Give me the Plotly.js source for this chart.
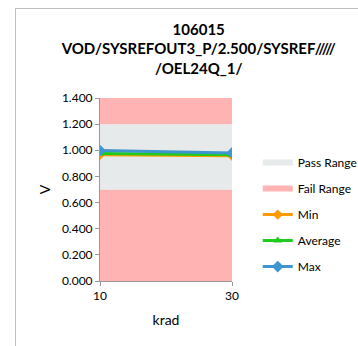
<!DOCTYPE html>
<html><head><meta charset="utf-8">
<script src="https://cdn.plot.ly/plotly-3.0.1.min.js"></script>
<style>
body{margin:0;padding:0;background:#fff;}
#wrap{position:relative;width:358px;height:346px;}
#chart{position:absolute;left:0;top:0;width:358px;height:346px;}
#frame{position:absolute;left:15px;top:8px;width:400px;height:400px;border-left:1px solid #c0c0c0;border-top:1px solid #c0c0c0;pointer-events:none;}
</style></head>
<body>
<div id="wrap"><div id="chart"></div><div id="frame"></div></div>
<script>
const krad = [10, 30];
const failLow = [0.7, 0.7];
const passHigh = [1.2, 1.2];
const failHigh = [1.4, 1.4];
const minV = [0.965, 0.958];
const avgV = [0.975, 0.965];
const maxV = [0.998, 0.980];
const titleText = '<b>106015</b><br><b>VOD/SYSREFOUT3_P/2.500/SYSREF/////</b><br><b>/OEL24Q_1/</b>';

const passColor = '#E6EAEA';
const failColor = '#FFB3B3';
const traces = [
  {x: krad, y: failLow, mode: 'none', fill: 'tozeroy', fillcolor: failColor, name: 'Fail Range', legendgroup: 'fail', showlegend: false, hoverinfo: 'skip'},
  {x: krad, y: passHigh, mode: 'none', fill: 'tonexty', fillcolor: passColor, name: 'Pass Range', legendgroup: 'pass', hoverinfo: 'skip'},
  {x: krad, y: failHigh, mode: 'none', fill: 'tonexty', fillcolor: failColor, name: 'Fail Range', legendgroup: 'fail', hoverinfo: 'skip'},
  {x: krad, y: minV, mode: 'lines+markers', name: 'Min', legendgroup: 'min', line: {color: '#FF9A00', width: 3}, marker: {symbol: 'diamond', size: 8, color: '#FF9A00'}},
  {x: krad, y: avgV, mode: 'lines+markers', name: 'Average', legendgroup: 'avg', line: {color: '#1DCC1D', width: 3}, marker: {symbol: 'triangle-up', size: 8, color: '#1DCC1D'}},
  {x: krad, y: maxV, mode: 'lines+markers', name: 'Max', legendgroup: 'max', line: {color: '#3E95D0', width: 3}, marker: {symbol: 'diamond', size: 9, color: '#3E95D0'}}
];
const layout = {
  width: 358, height: 346,
  margin: {l: 100, r: 126, t: 98, b: 65, autoexpand: false},
  paper_bgcolor: '#fff', plot_bgcolor: '#fff',
  font: {family: 'Lato, "Open Sans", sans-serif', color: '#000', size: 12},
  title: {text: titleText, x: 0.555, xanchor: 'center', xref: 'container', yref: 'container', y: 0.90, yanchor: 'top', font: {size: 15, family: 'Lato, "Open Sans", sans-serif', color: '#000'}},
  xaxis: {range: [10, 30], tickvals: krad, ticktext: ['10', '30'], showgrid: false, zeroline: false, showline: true, linecolor: '#999', ticks: 'outside', ticklen: 4, tickcolor: '#999',
          title: {text: 'krad', font: {size: 14}, standoff: 12}, tickfont: {size: 12}},
  yaxis: {range: [0, 1.4], dtick: 0.2, tickformat: '.3f', showgrid: false, zeroline: false, showline: true, linecolor: '#999', ticks: 'outside', ticklen: 4, tickcolor: '#999',
          title: {text: 'V', font: {size: 14}, standoff: 8}, tickfont: {size: 12}},
  legend: {xref: 'container', yref: 'container', x: 0.72, y: 0.572, xanchor: 'left', yanchor: 'top', font: {size: 12}, traceorder: 'grouped', tracegroupgap: 7, itemwidth: 30, bgcolor: 'rgba(0,0,0,0)'},
  showlegend: true
};
Plotly.newPlot('chart', traces, layout, {displayModeBar: false, staticPlot: true});
</script>
</body></html>
